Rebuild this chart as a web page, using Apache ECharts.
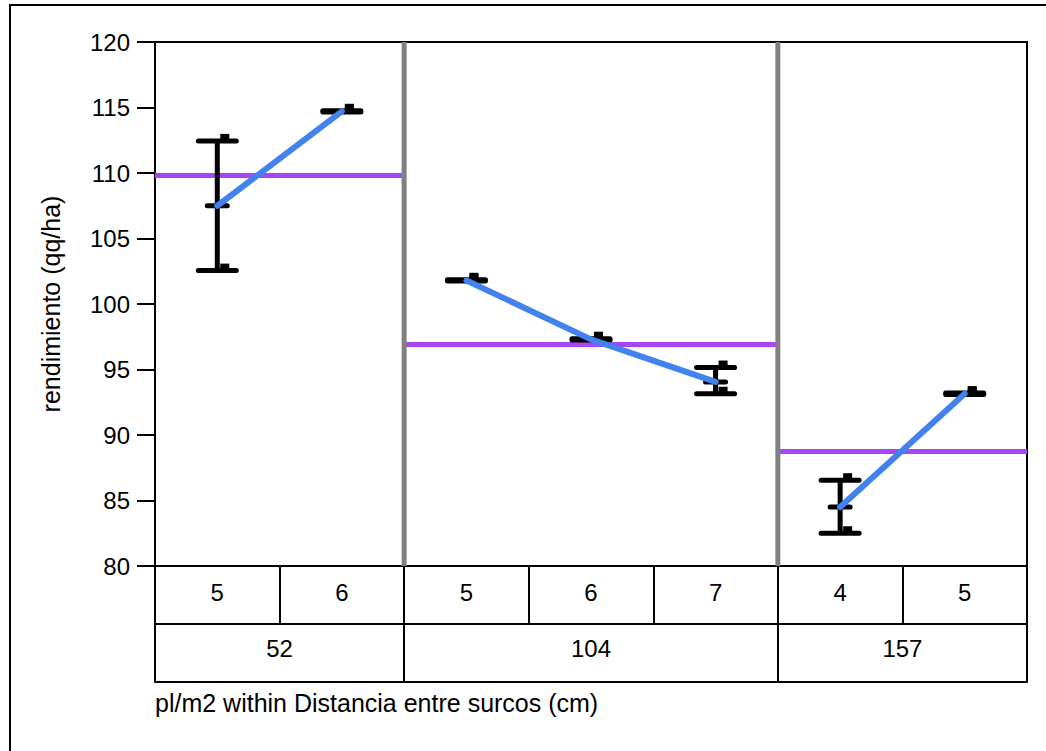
<!DOCTYPE html>
<html>
<head>
<meta charset="utf-8">
<script src="https://cdn.jsdelivr.net/npm/echarts@6/dist/echarts.min.js"></script>
<style>
html,body{margin:0;padding:0;background:#fff;}
#chart{width:1046px;height:751px;}
</style>
</head>
<body>
<div id="chart"></div>
<script>
// ---- data ----
const innerLabels = ['5', '6', '5', '6', '7', '4', '5'];      // pl/m2
const groupLabels = ['52', '104', '157'];                      // Distancia entre surcos (cm)
const groupSizes  = [2, 3, 2];
const means  = [107.5, 114.7, 101.8, 97.3, 94.05, 84.5, 93.15];
const upper  = [112.45, 114.75, 101.85, 97.35, 95.15, 86.55, 93.2];
const lower  = [102.55, 114.65, 101.75, 97.25, 93.15, 82.5, 93.1];
const groupMeans = [109.8, 96.9, 88.75];
const yTicks = { min: 80, max: 120, interval: 5 };
const yTitle = 'rendimiento (qq/ha)';
const xTitle = 'pl/m2 within Distancia entre surcos (cm)';

// ---- build ----
const FONT = 'Liberation Sans, Arial, Helvetica, sans-serif';
const PURPLE = '#A846F5';
const BLUE = '#4282EE';
const GRAY = '#808080';

const bounds = [0];
groupSizes.forEach(s => bounds.push(bounds[bounds.length - 1] + s));
const groupCenters = groupSizes.map((s, i) => bounds[i] + s / 2);
const nCat = innerLabels.length;

const series = [];
// group mean lines (purple)
groupMeans.forEach((gm, i) => {
  series.push({
    type: 'line', xAxisIndex: 1, yAxisIndex: 0, symbol: 'none', silent: true,
    data: [[bounds[i], gm], [bounds[i + 1], gm]],
    lineStyle: { color: PURPLE, width: 5 }, z: 2, animation: false
  });
});
// group separators (gray)
bounds.slice(1, -1).forEach(b => {
  series.push({
    type: 'line', xAxisIndex: 1, yAxisIndex: 0, symbol: 'none', silent: true,
    data: [[b, yTicks.min], [b, yTicks.max]],
    lineStyle: { color: GRAY, width: 5 }, z: 3, animation: false
  });
});
// error bars
series.push({
  type: 'custom', xAxisIndex: 1, yAxisIndex: 0, z: 4, animation: false, silent: true,
  data: means.map((m, i) => [i + 0.5, lower[i], upper[i], m]),
  encode: { x: 0, y: [1, 2, 3] },
  renderItem: function (params, api) {
    const x = api.value(0);
    const pLo = api.coord([x, api.value(1)]);
    const pHi = api.coord([x, api.value(2)]);
    const pM = api.coord([x, api.value(3)]);
    const cx = pM[0];
    const st = { stroke: '#000', lineWidth: 5, lineCap: 'round' };
    const children = [
      { type: 'line', shape: { x1: cx, y1: pHi[1], x2: cx, y2: pLo[1] }, style: { stroke: '#000', lineWidth: 5 } },
      { type: 'line', shape: { x1: cx - 19, y1: pHi[1], x2: cx + 19, y2: pHi[1] }, style: st },
      { type: 'line', shape: { x1: cx - 19, y1: pLo[1], x2: cx + 19, y2: pLo[1] }, style: st },
      { type: 'rect', shape: { x: cx + 3, y: pHi[1] - 7, width: 9, height: 6 }, style: { fill: '#000' } },
      { type: 'rect', shape: { x: cx + 3, y: pLo[1] - 7, width: 9, height: 6 }, style: { fill: '#000' } },
      { type: 'line', shape: { x1: cx - 10, y1: pM[1], x2: cx + 10, y2: pM[1] }, style: st }
    ];
    return { type: 'group', children: children };
  }
});
// connecting mean lines (blue), one per group
groupSizes.forEach((s, g) => {
  const pts = [];
  for (let i = bounds[g]; i < bounds[g + 1]; i++) pts.push([i + 0.5, means[i]]);
  series.push({
    type: 'line', xAxisIndex: 1, yAxisIndex: 0, symbol: 'none', silent: true,
    data: pts, lineStyle: { color: BLUE, width: 6, cap: 'round' }, z: 5, animation: false
  });
});

const chart = echarts.init(document.getElementById('chart'), null, { renderer: 'svg' });
chart.setOption({
  animation: false,
  backgroundColor: '#fff',
  textStyle: { fontFamily: FONT },
  title: {
    text: xTitle, left: 155, top: 690, padding: 0,
    textStyle: { fontSize: 25, fontWeight: 'normal', color: '#000', fontFamily: FONT }
  },
  graphic: [{
    type: 'rect', shape: { x: 10, y: 5, width: 2000, height: 2000 },
    style: { fill: 'none', stroke: '#000', lineWidth: 2 }, silent: true, z: -1
  }],
  grid: {
    left: 155, right: 19, top: 42, bottom: 185,
    show: true, borderColor: '#000', borderWidth: 2, backgroundColor: 'transparent'
  },
  xAxis: [
    {
      type: 'category', data: innerLabels, position: 'bottom', boundaryGap: true,
      axisLine: { show: true, lineStyle: { color: '#000', width: 2 } },
      axisTick: { show: true, interval: 0, length: 58, alignWithLabel: false, lineStyle: { color: '#000', width: 2 } },
      axisLabel: { interval: 0, margin: 14, fontSize: 24, color: '#000', fontFamily: FONT },
      splitLine: { show: false }
    },
    { type: 'value', min: 0, max: nCat, show: false, position: 'top' },
    {
      type: 'value', min: 0, max: nCat, position: 'bottom', offset: 58,
      axisLine: { show: true, lineStyle: { color: '#000', width: 2 } },
      axisTick: { show: true, length: 58, customValues: bounds, lineStyle: { color: '#000', width: 2 } },
      axisLabel: {
        show: true, margin: 12, fontSize: 24, color: '#000', fontFamily: FONT,
        customValues: groupCenters,
        formatter: function (v) {
          const i = groupCenters.indexOf(v);
          return i >= 0 ? groupLabels[i] : '';
        }
      },
      splitLine: { show: false }
    },
    {
      type: 'value', min: 0, max: nCat, position: 'bottom', offset: 116,
      axisLine: { show: true, lineStyle: { color: '#000', width: 2 } },
      axisTick: { show: false }, axisLabel: { show: false }, splitLine: { show: false }
    }
  ],
  yAxis: [{
    type: 'value', min: yTicks.min, max: yTicks.max, interval: yTicks.interval,
    name: yTitle, nameLocation: 'middle', nameGap: 92, nameRotate: 90,
    nameTextStyle: { fontSize: 25, color: '#000', fontFamily: FONT },
    axisLine: { show: true, lineStyle: { color: '#000', width: 2 } },
    axisTick: { show: true, length: 18, lineStyle: { color: '#000', width: 2 } },
    axisLabel: { margin: 25, fontSize: 24, color: '#000', fontFamily: FONT },
    splitLine: { show: false }
  }],
  series: series
});
</script>
</body>
</html>
